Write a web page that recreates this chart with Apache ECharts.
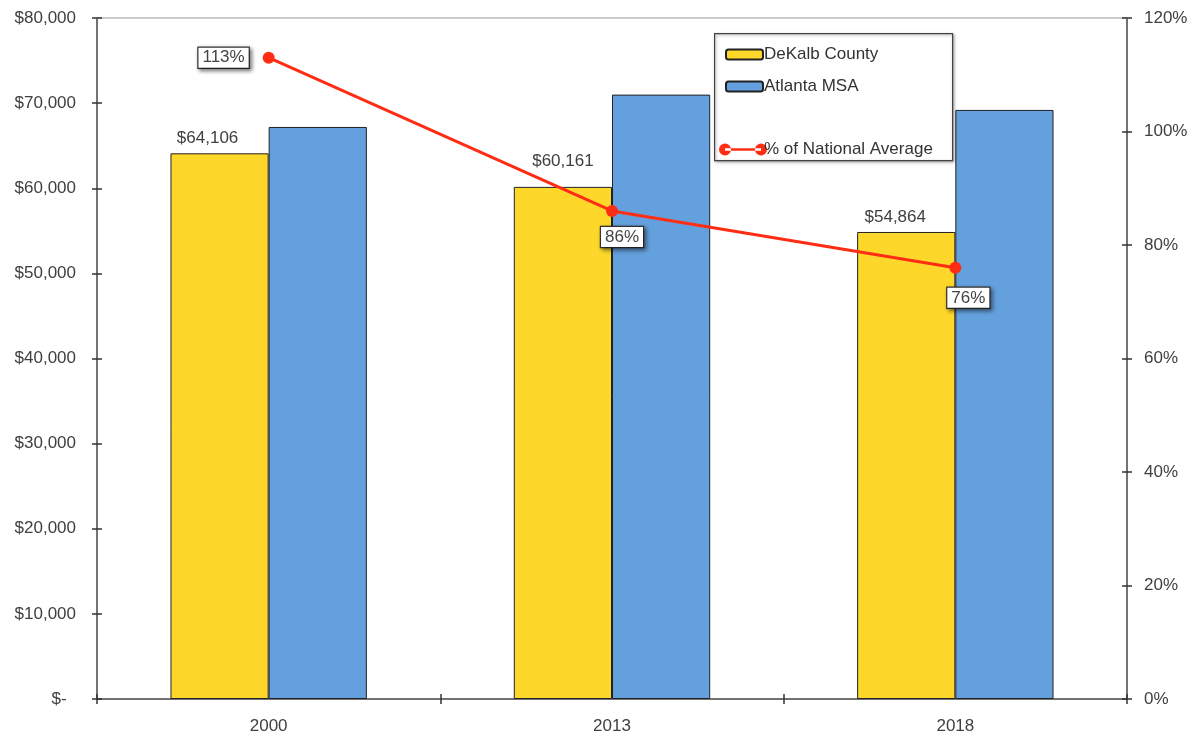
<!DOCTYPE html>
<html>
<head>
<meta charset="utf-8">
<script src="https://cdn.jsdelivr.net/npm/echarts@6/dist/echarts.min.js"></script>
<style>
  html, body { margin: 0; padding: 0; background: #fff; }
  #chart { width: 1196px; height: 739px; }
</style>
</head>
<body>
<div id="chart"></div>
<script>
// Median household income and share of national average
const years = ['2000', '2013', '2018'];
const dekalbIncome = [64106, 60161, 54864];
const atlantaIncome = [67200, 71000, 69200];
const pctNational = [113, 86, 76];

const incomeTicks = { min: 0, max: 80000, interval: 10000 };
const pctTicks = { min: 0, max: 120, interval: 20 };

const FONT = '"Liberation Sans", Arial, sans-serif';
const TEXT = '#404040';
const FS = 17;
const RED = '#FF2D14';

// Label placement for each point of the percentage line
const pctLabelPlacement = [
  { position: 'left', distance: 14, offset: [0, 0] },
  { position: 'bottom', distance: 10, offset: [10, 0] },
  { position: 'bottom', distance: 10, offset: [13, 4] }
];
// Nudges for the DeKalb value labels (the middle one sits clear of the line)
const incomeLabelOffset = [[-12, 0], [0, -11], [-11, 0]];

const chart = echarts.init(document.getElementById('chart'));

const boxLabel = {
  show: true,
  formatter: p => p.value + '%',
  color: '#444',
  fontFamily: FONT,
  fontSize: FS,
  backgroundColor: '#fff',
  borderColor: '#333',
  borderWidth: 1.2,
  padding: [2, 4, 1, 4],
  shadowColor: 'rgba(0,0,0,0.45)',
  shadowBlur: 4,
  shadowOffsetX: 2,
  shadowOffsetY: 2
};

// Tick marks that cross the axis line: an outward set on the main axes
// plus an inward set on overlaid, otherwise hidden axes.
const innerTick = { show: true, inside: true, length: 5, lineStyle: { color: '#333', width: 1.5 } };
const outerTick = { show: true, length: 5, lineStyle: { color: '#333', width: 1.5 } };
const hidden = { axisLine: { show: false }, axisLabel: { show: false }, splitLine: { show: false } };

chart.setOption({
  animation: false,
  backgroundColor: '#fff',
  textStyle: { fontFamily: FONT },
  grid: { left: 97, right: 69, top: 18, bottom: 40, containLabel: false },
  graphic: [{
    type: 'rect',
    left: 714, top: 33,
    shape: { width: 238, height: 127 },
    style: {
      fill: '#fff', stroke: '#444', lineWidth: 1.2,
      shadowColor: 'rgba(0,0,0,0.35)', shadowBlur: 3, shadowOffsetX: 1, shadowOffsetY: 1
    },
    z: 5
  }],
  legend: [{
    orient: 'vertical',
    left: 720, top: 41,
    itemWidth: 37, itemHeight: 10, itemGap: 15,
    icon: 'roundRect',
    textStyle: { color: '#333', fontSize: FS, fontFamily: FONT, padding: [0, 0, 0, -4] },
    data: ['DeKalb County', 'Atlanta MSA'],
    z: 10
  }, {
    orient: 'vertical',
    left: 714, top: 136,
    itemWidth: 48, itemHeight: 14,
    icon: 'path://M0,7a6,6 0 1,0 12,0a6,6 0 1,0 -12,0Z M36,7a6,6 0 1,0 12,0a6,6 0 1,0 -12,0Z M6,5.8L42,5.8L42,8.2L6,8.2Z',
    textStyle: { color: '#333', fontSize: FS, fontFamily: FONT, padding: [0, 0, 0, -8] },
    data: [{ name: '% of National Average', itemStyle: { color: RED, borderWidth: 0 } }],
    z: 10
  }],
  xAxis: [{
    type: 'category',
    data: years,
    axisLine: { lineStyle: { color: '#444', width: 1.5 } },
    axisTick: outerTick,
    axisLabel: { color: TEXT, fontSize: FS, fontFamily: FONT, margin: 19 }
  }, {
    type: 'category',
    data: years,
    position: 'top',
    axisLine: { show: true, onZero: false, lineStyle: { color: '#ccc', width: 2 } },
    axisTick: { show: false },
    axisLabel: { show: false }
  }, Object.assign({
    type: 'category',
    data: years,
    position: 'bottom',
    axisTick: innerTick
  }, hidden)],
  yAxis: [{
    type: 'value',
    min: incomeTicks.min, max: incomeTicks.max, interval: incomeTicks.interval,
    axisLine: { show: true, lineStyle: { color: '#444', width: 1.5 } },
    axisTick: outerTick,
    splitLine: { show: false },
    axisLabel: {
      color: TEXT, fontSize: FS, fontFamily: FONT, margin: 21,
      formatter: v => v === 0 ? '$-  ' : '$' + v.toLocaleString('en-US')
    }
  }, {
    type: 'value',
    position: 'right',
    min: pctTicks.min, max: pctTicks.max, interval: pctTicks.interval,
    axisLine: { show: true, lineStyle: { color: '#444', width: 1.5 } },
    axisTick: outerTick,
    splitLine: { show: false },
    axisLabel: {
      color: TEXT, fontSize: FS, fontFamily: FONT, margin: 17,
      formatter: v => v + '%'
    }
  }, Object.assign({
    type: 'value',
    position: 'left',
    min: incomeTicks.min, max: incomeTicks.max, interval: incomeTicks.interval,
    axisTick: innerTick
  }, hidden), Object.assign({
    type: 'value',
    position: 'right',
    min: pctTicks.min, max: pctTicks.max, interval: pctTicks.interval,
    axisTick: innerTick
  }, hidden)],
  series: [{
    name: 'DeKalb County',
    type: 'bar',
    data: dekalbIncome.map((v, i) => ({ value: v, label: { offset: incomeLabelOffset[i] } })),
    barWidth: '28.6%',
    barGap: '0%',
    itemStyle: { color: '#FDD82B', borderColor: '#222', borderWidth: 1 },
    label: {
      show: true, position: 'top', distance: 6,
      color: TEXT, fontSize: FS, fontFamily: FONT,
      formatter: p => '$' + p.value.toLocaleString('en-US')
    }
  }, {
    name: 'Atlanta MSA',
    type: 'bar',
    data: atlantaIncome,
    barWidth: '28.6%',
    itemStyle: { color: '#64A0DD', borderColor: '#222', borderWidth: 1 }
  }, {
    name: '% of National Average',
    type: 'line',
    yAxisIndex: 1,
    data: pctNational.map((v, i) => ({ value: v, label: Object.assign({}, boxLabel, pctLabelPlacement[i]) })),
    symbol: 'circle',
    symbolSize: 12,
    lineStyle: { color: RED, width: 3 },
    itemStyle: { color: RED },
    label: boxLabel,
    z: 4
  }]
});
</script>
</body>
</html>
